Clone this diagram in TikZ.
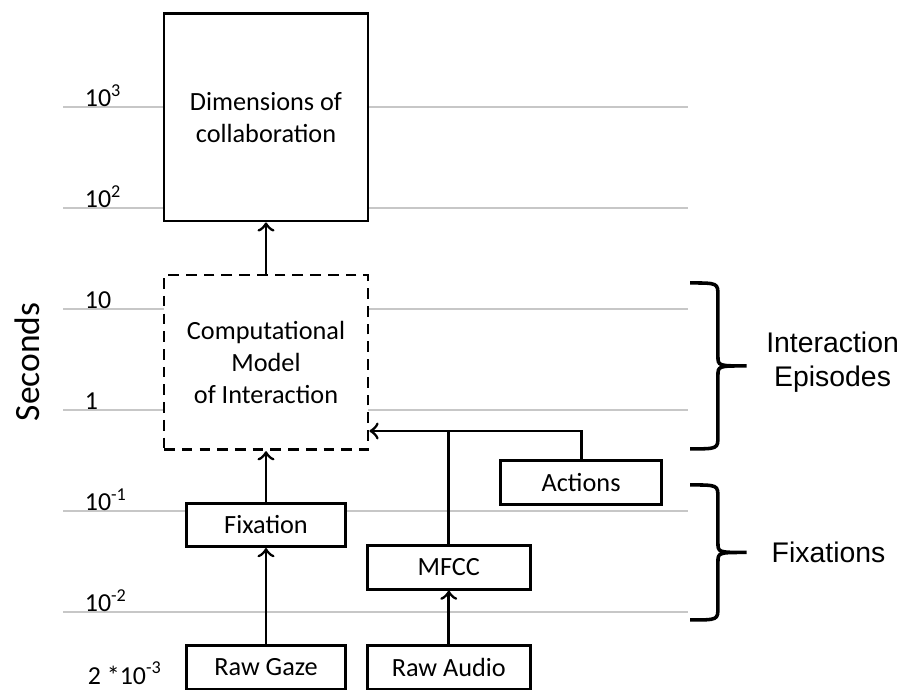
\documentclass[tikz,border=0pt]{standalone}
\usepackage{fontspec}
\setmainfont{Carlito}
\newfontfamily\arialfont{Liberation Sans}
\usetikzlibrary{arrows, calc}
\tikzstyle{arrow} = [thick,->,>=to]
\tikzstyle{block} = [draw, thick, fill=white, minimum height=0.43cm, inner sep=0pt, align=center, font=\fontsize{7.4}{9}\selectfont]
\tikzstyle{gridline} = [line width=0.6pt, draw=black!22]
\tikzstyle{ticklabel} = [anchor=base west, inner sep=0pt, font=\fontsize{7.3}{9}\selectfont]
\tikzstyle{bracket} = [line width=1pt]
\tikzstyle{sidelabel} = [align=center, font=\arialfont\fontsize{8}{9.6}\selectfont]

\begin{document}
\begin{tikzpicture}

        \useasboundingbox (-0.624,-2.772) rectangle (8.347,4.059);

        % Time scale, one line per decade
        \foreach \y/\lbl in {3/10\textsuperscript{3}, 2/10\textsuperscript{2}, 1/10, 0/1, -1/10\textsuperscript{-1}, -2/10\textsuperscript{-2}} {
            \draw [gridline] (0,\y) -- (6.19,\y);
            \node at (0.21,\y) [ticklabel] (tick\y) {\lbl};
        }
        \node at (0.24,-2.72) [ticklabel] (tickmin) {2 *10\textsuperscript{-3}};
        \node at (-0.356,0.475) [rotate=90, font=\fontsize{10}{12}\selectfont] (secs) {Seconds};

        % Upper boxes
        \node at (2.01,2.896) [block, minimum width=2.02cm, minimum height=2.05cm] (dims) {Dimensions of\\collaboration};
        \node at (2.01,0.47) [block, dash pattern=on 3pt off 2pt, minimum width=2.02cm, minimum height=1.73cm] (model) {Computational\\Model\\of Interaction};

        % Gaze
        \node at (2.01,-1.139) [block, minimum width=1.58cm] (fix) {Fixation};
        \node at (2.01,-2.55) [block, minimum width=1.58cm, minimum height=0.44cm] (gaze) {Raw Gaze};

        % Audio
        \node at (3.82,-1.56) [block, minimum width=1.61cm] (mfcc) {MFCC};
        \node at (3.82,-2.55) [block, minimum width=1.61cm, minimum height=0.44cm] (audio) {Raw Audio};

        % Actions
        \node at (5.13,-0.718) [block, minimum width=1.59cm] (actions) {Actions};

        % Connections
        \coordinate (tap) at ($(model.south east)+(0,0.2)$);
        \draw [arrow] (model.north) -- (dims.south);
        \draw [arrow] (fix.north) -- (model.south);
        \draw [arrow] (gaze.north) -- (fix.south);
        \draw [arrow] (audio.north) -- (mfcc.south);
        \draw [thick] (mfcc.north) -- (mfcc.north |- tap);
        \draw [arrow] (actions.north) |- (tap);

        % Braces
        \foreach \t/\b in {1.257/-0.386, -0.743/-2.08} {
            \pgfmathsetmacro{\m}{(\t+\b)/2}
            \draw [bracket] (6.21,\t) .. controls (6.485,\t) .. (6.485,\t-0.13)
                -- (6.485,\m+0.1) .. controls (6.485,\m) .. (6.77,\m)
                .. controls (6.485,\m) .. (6.485,\m-0.1)
                -- (6.485,\b+0.13) .. controls (6.485,\b) .. (6.21,\b);
        }
        \node at (7.62,0.475) [sidelabel] (ielabel) {Interaction\\Episodes};
        \node at (7.58,-1.411) [sidelabel] (fxlabel) {Fixations};

\end{tikzpicture}
\end{document}
